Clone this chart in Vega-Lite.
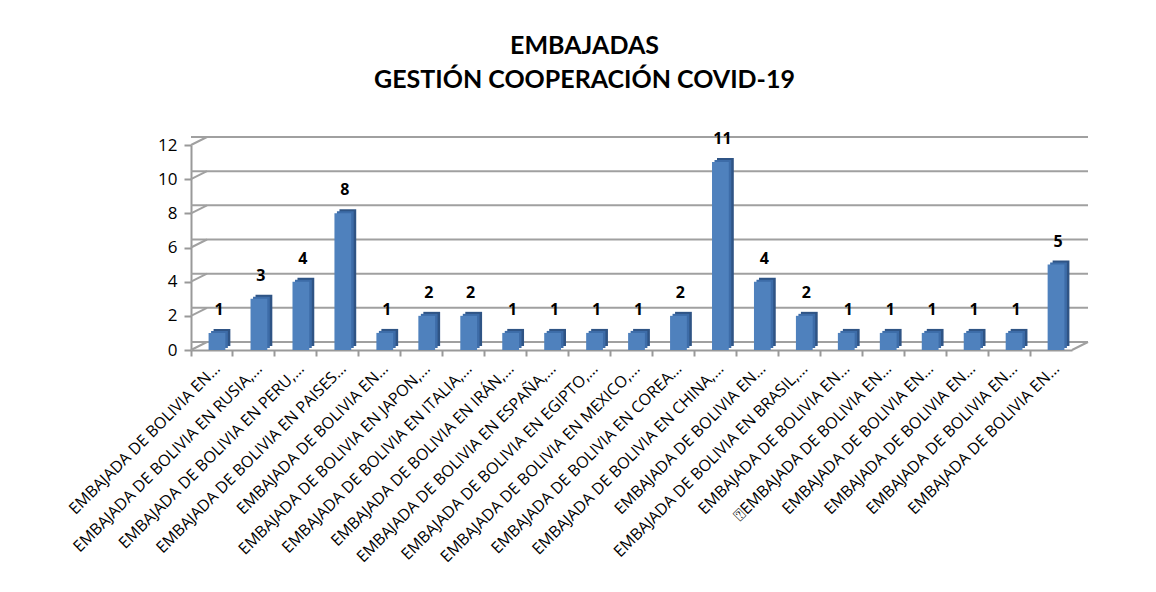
{
  "$schema": "https://vega.github.io/schema/vega-lite/v6.json",
  "autosize": {"type": "none"},
  "width": 881,
  "height": 205,
  "padding": {"left": 191, "top": 145, "right": 84, "bottom": 242},
  "background": "white",
  "config": {
    "view": {"stroke": null},
    "font": "Lato",
    "axisY": {
      "title": null,
      "values": [0, 2, 4, 6, 8, 10, 12],
      "labelOverlap": false,
      "labelFontSize": 17,
      "labelColor": "#000000",
      "labelFont": "Open Sans",
      "labelPadding": 7,
      "tickSize": 7,
      "tickColor": "#999999",
      "tickWidth": 2,
      "domainColor": "#999999",
      "domainWidth": 2,
      "grid": false
    }
  },
  "title": {
    "text": ["EMBAJADAS", "GESTIÓN COOPERACIÓN COVID-19"],
    "fontSize": 25,
    "fontWeight": "bold",
    "font": "Lato",
    "color": "#000000",
    "lineHeight": 34,
    "anchor": "middle",
    "dx": -47,
    "offset": 38
  },
  "data": {
    "values": [
      {"cat": "01|EMBAJADA DE BOLIVIA EN…", "v": 1},
      {"cat": "02|EMBAJADA DE BOLIVIA EN RUSIA,…", "v": 3},
      {"cat": "03|EMBAJADA DE BOLIVIA EN PERU,…", "v": 4},
      {"cat": "04|EMBAJADA DE BOLIVIA EN PAISES…", "v": 8},
      {"cat": "05|EMBAJADA DE BOLIVIA EN…", "v": 1},
      {"cat": "06|EMBAJADA DE BOLIVIA EN JAPON,…", "v": 2},
      {"cat": "07|EMBAJADA DE BOLIVIA EN ITALIA,…", "v": 2},
      {"cat": "08|EMBAJADA DE BOLIVIA EN IRÁN,…", "v": 1},
      {"cat": "09|EMBAJADA DE BOLIVIA EN ESPAÑA,…", "v": 1},
      {"cat": "10|EMBAJADA DE BOLIVIA EN EGIPTO,…", "v": 1},
      {"cat": "11|EMBAJADA DE BOLIVIA EN MEXICO,…", "v": 1},
      {"cat": "12|EMBAJADA DE BOLIVIA EN COREA…", "v": 2},
      {"cat": "13|EMBAJADA DE BOLIVIA EN CHINA,…", "v": 11},
      {"cat": "14|EMBAJADA DE BOLIVIA EN…", "v": 4},
      {"cat": "15|EMBAJADA DE BOLIVIA EN BRASIL,…", "v": 2},
      {"cat": "16|EMBAJADA DE BOLIVIA EN…", "v": 1},
      {"cat": "17|⍰EMBAJADA DE BOLIVIA EN…", "v": 1},
      {"cat": "18|EMBAJADA DE BOLIVIA EN…", "v": 1},
      {"cat": "19|EMBAJADA DE BOLIVIA EN…", "v": 1},
      {"cat": "20|EMBAJADA DE BOLIVIA EN…", "v": 1},
      {"cat": "21|EMBAJADA DE BOLIVIA EN…", "v": 5}
    ]
  },
  "datasets": {
    "grid": [{"g": 0}, {"g": 2}, {"g": 4}, {"g": 6}, {"g": 8}, {"g": 10}, {"g": 12}]
  },
  "encoding": {
    "x": {
      "field": "cat",
      "type": "nominal",
      "sort": "ascending",
      "scale": {"paddingInner": 0, "paddingOuter": 0},
      "axis": {
        "title": null,
        "labelExpr": "split(datum.label, '|')[1]",
        "labelAngle": -45,
        "labelFontSize": 16,
        "labelColor": "#000000",
        "labelLimit": 500,
        "labelOverlap": false,
        "labelPadding": 4,
        "labelFont": "Open Sans",
        "bandPosition": 0,
        "ticks": true,
        "tickSize": 6,
        "tickColor": "#999999",
        "tickWidth": 2,
        "domainColor": "#999999",
        "domainWidth": 2,
        "grid": false
      }
    }
  },
  "layer": [
    {
      "data": {"name": "grid"},
      "mark": {"type": "rule", "color": "#A0A0A0", "strokeWidth": 2, "xOffset": 16, "yOffset": -8},
      "encoding": {
        "x": null,
        "y": {"field": "g", "type": "quantitative", "scale": {"domain": [0, 12]}}
      }
    },
    {
      "data": {"name": "grid"},
      "mark": {"type": "rule", "color": "#A0A0A0", "strokeWidth": 2, "x2Offset": 16, "y2Offset": -8},
      "encoding": {
        "x": {"datum": "01|EMBAJADA DE BOLIVIA EN…", "type": "nominal", "bandPosition": 0},
        "x2": {"datum": "01|EMBAJADA DE BOLIVIA EN…", "bandPosition": 0},
        "y": {"field": "g", "type": "quantitative"},
        "y2": {"field": "g"}
      }
    },
    {
      "data": {"values": [{"g": 0}]},
      "mark": {"type": "rule", "color": "#A0A0A0", "strokeWidth": 2, "x2Offset": 16, "y2Offset": -8},
      "encoding": {
        "x": {"datum": "21|EMBAJADA DE BOLIVIA EN…", "type": "nominal", "bandPosition": 1},
        "x2": {"datum": "21|EMBAJADA DE BOLIVIA EN…", "bandPosition": 1},
        "y": {"field": "g", "type": "quantitative"},
        "y2": {"field": "g"}
      }
    },
    {
      "mark": {"type": "bar", "color": "#2F5485", "width": {"band": 0.4}, "xOffset": 10, "yOffset": -4},
      "encoding": {
        "y": {"field": "v", "type": "quantitative"}
      }
    },
    {
      "mark": {"type": "bar", "color": "#3D6CA8", "width": {"band": 0.4}, "xOffset": 7.5, "yOffset": -2},
      "encoding": {
        "y": {"field": "v", "type": "quantitative"}
      }
    },
    {
      "mark": {"type": "bar", "color": "#4F81BD", "width": {"band": 0.4}, "xOffset": 5},
      "encoding": {
        "y": {"field": "v", "type": "quantitative"}
      }
    },
    {
      "mark": {"type": "text", "fontWeight": "bold", "fontSize": 16, "font": "Open Sans", "color": "#000000", "dy": -15, "xOffset": 7, "baseline": "bottom"},
      "encoding": {
        "y": {"field": "v", "type": "quantitative"},
        "text": {"field": "v", "type": "quantitative"}
      }
    }
  ]
}
